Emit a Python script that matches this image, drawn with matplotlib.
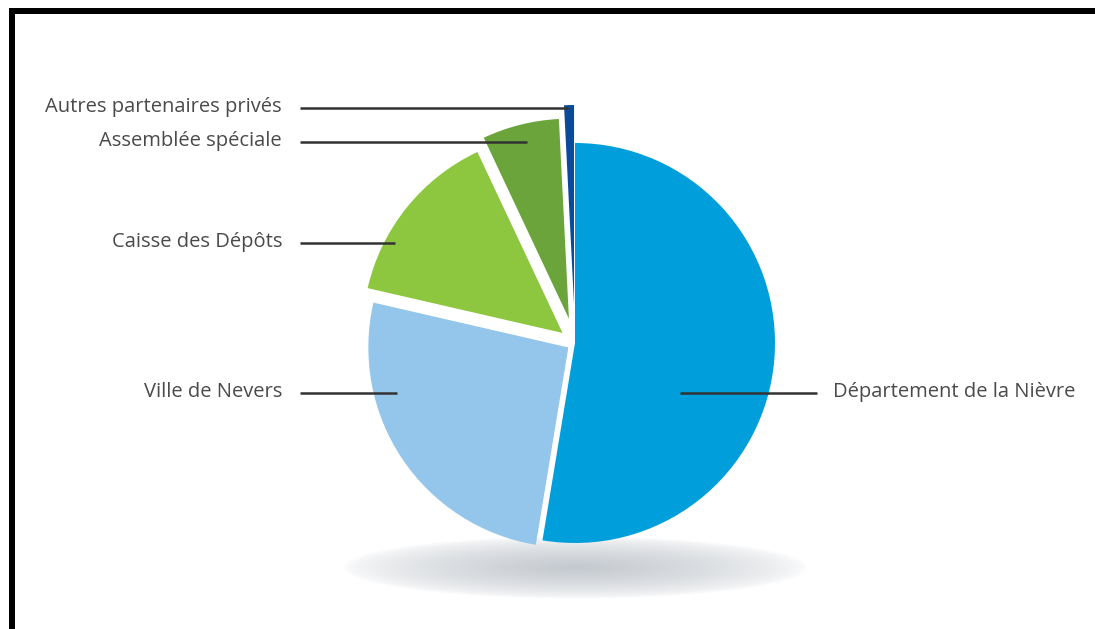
import numpy as np
import matplotlib
matplotlib.use("Agg")
import matplotlib.pyplot as plt
from matplotlib.patches import Rectangle

# ---- data ----
categories = ["Département de la Nièvre", "Ville de Nevers", "Caisse des Dépôts",
              "Assemblée spéciale", "Autres partenaires privés"]
values = [52.6, 26.0, 14.4, 6.2, 0.8]
colors = ["#009fdb", "#93c6ea", "#8dc63f", "#6ba43a", "#0b4a9a"]
explode = [0.0, 0.04, 0.08, 0.125, 0.19]

W, H = 1095, 629
fig = plt.figure(figsize=(W / 100, H / 100), dpi=100)
ax = fig.add_axes([0, 0, 1, 1])
ax.set_axis_off()

cx, cy, R = 575, H - 343, 200

# shadow under the pie
sx, sy, sw, sh = 575, H - 568, 232, 31
xs = np.linspace(sx - sw * 1.1, sx + sw * 1.1, 400)
ys = np.linspace(sy - sh * 1.3, sy + sh * 1.3, 120)
XX, YY = np.meshgrid(xs, ys)
d = np.sqrt(((XX - sx) / sw) ** 2 + ((YY - sy) / sh) ** 2)
alpha = np.clip(1.0 - d, 0, 1) ** 0.6 * 0.95
img = np.zeros(XX.shape + (4,))
img[..., 0] = 0.76
img[..., 1] = 0.78
img[..., 2] = 0.80
img[..., 3] = alpha
ax.imshow(img, extent=(xs[0], xs[-1], ys[0], ys[-1]), origin="lower",
          zorder=0, interpolation="bilinear")

# matplotlib's explode offset is in data units, so scale by the radius
wedges, _ = ax.pie(values, colors=colors, explode=[e * R for e in explode],
                   startangle=90, counterclock=False, center=(cx, cy), radius=R,
                   wedgeprops=dict(linewidth=0), frame=True)
for w in wedges:
    w.set_zorder(2)

ax.set_xlim(0, W)
ax.set_ylim(0, H)
ax.set_aspect("equal")
ax.set_axis_off()

# leader lines and labels (y measured from top)
lc = "#333333"
tc = "#4a4a4a"
font = dict(family="Open Sans", fontsize=14.5, color=tc, va="center")

left_labels = [
    ("Autres partenaires privés", 108, 568),
    ("Assemblée spéciale", 142, 527),
    ("Caisse des Dépôts", 243, 395),
    ("Ville de Nevers", 393, 397),
]
for text, yt, xend in left_labels:
    y = H - yt
    ax.plot([300, xend], [y, y], color=lc, lw=1.8, zorder=3, solid_capstyle="butt")
    ax.text(282, y + 1, text, ha="right", **font)

y = H - 393
ax.plot([680, 817], [y, y], color=lc, lw=1.8, zorder=3, solid_capstyle="butt")
ax.text(833, y + 1, categories[0], ha="left", **font)

# black frame lines (top and left)
ax.add_patch(Rectangle((9, H - 14), W - 9, 6, color="black", zorder=5, lw=0))
ax.add_patch(Rectangle((9, 0), 6, H - 8, color="black", zorder=5, lw=0))

fig.savefig("out.png", dpi=100, facecolor="white")
